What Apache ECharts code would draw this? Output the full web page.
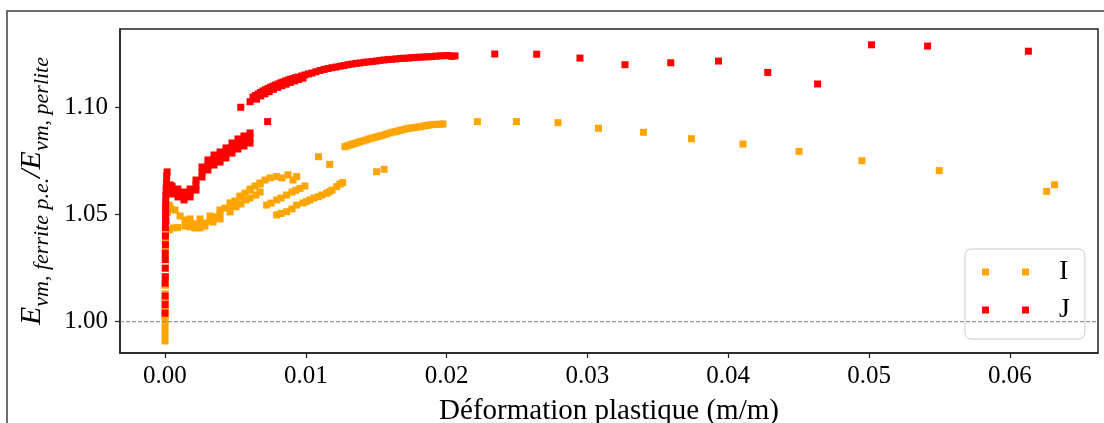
<!DOCTYPE html>
<html>
<head>
<meta charset="utf-8">
<script src="https://cdn.jsdelivr.net/npm/echarts@6/dist/echarts.min.js"></script>
<style>
  html, body { margin: 0; padding: 0; background: #ffffff; }
  #chart { width: 1104px; height: 423px; }
</style>
</head>
<body>
<div id="chart"></div>
<script>
// ---- data ----
var xTicks = [0.00, 0.01, 0.02, 0.03, 0.04, 0.05, 0.06];
var yTicks = [1.00, 1.05, 1.10];
var seriesNames = ['I', 'J'];

var seriesI = [
  [0.00000,0.991],[0.00000,0.994],[0.00000,0.997],[0.00001,1.000],[0.00001,1.003],[0.00001,1.006],
  [0.00001,1.010],[0.00001,1.013],[0.00002,1.017],[0.00002,1.021],[0.00002,1.025],[0.00002,1.029],
  [0.00003,1.033],[0.00003,1.037],[0.00004,1.040],[0.00005,1.043],
  [0.00010,1.047],[0.00018,1.051],[0.00030,1.0545],[0.00040,1.053],
  [0.00030,1.0429],[0.00060,1.0438],[0.00090,1.0440],
  [0.00071,1.0522],[0.00107,1.0494],[0.00142,1.0475],[0.00178,1.0461],[0.00213,1.0457],[0.00249,1.0457],
  [0.00284,1.0461],[0.00320,1.0471],[0.00355,1.0490],[0.00391,1.0508],[0.00426,1.0531],[0.00462,1.0540],
  [0.00497,1.0564],[0.00533,1.0583],[0.00568,1.0601],[0.00604,1.0620],[0.00639,1.0634],[0.00675,1.0648],
  [0.00710,1.0662],[0.00746,1.0672],
  [0.00178,1.0480],[0.00249,1.0480],[0.00320,1.0494],[0.00391,1.0522],[0.00462,1.0555],[0.00533,1.0587],
  [0.00604,1.0615],[0.00675,1.0643],
  [0.00142,1.0447],[0.00178,1.0443],[0.00213,1.0438],[0.00249,1.0438],[0.00284,1.0447],[0.00341,1.0466],
  [0.00391,1.0480],[0.00462,1.0513],[0.00504,1.0537],[0.00540,1.0550],[0.00575,1.0569],[0.00604,1.0578],
  [0.00646,1.0592],[0.00675,1.0606],
  [0.00793,1.0678],[0.00830,1.0672],[0.00874,1.0686],[0.00909,1.0662],[0.00935,1.0678],
  [0.00722,1.0545],[0.00753,1.0554],[0.00793,1.0569],[0.00824,1.0578],[0.00864,1.0592],[0.00902,1.0606],
  [0.00930,1.0614],[0.00959,1.0623],[0.00994,1.0634],
  [0.00793,1.0499],[0.00824,1.0506],[0.00864,1.0514],[0.00902,1.0527],[0.00935,1.0545],[0.00980,1.0555],
  [0.01005,1.0562],[0.01030,1.0569],[0.01058,1.0578],[0.01089,1.0584],[0.01115,1.0592],[0.01148,1.0600],
  [0.01166,1.0607],[0.01186,1.0615],[0.01219,1.0631],[0.01243,1.0643],[0.01262,1.0650],
  [0.01090,1.0771],[0.01170,1.0735],[0.01503,1.0701],[0.01556,1.0712],
  [0.01278,1.0818],[0.01296,1.0822],[0.01314,1.0826],[0.01332,1.0830],[0.01349,1.0833],[0.01367,1.0837],
  [0.01385,1.0841],[0.01406,1.0845],[0.01428,1.0849],[0.01449,1.0854],[0.01470,1.0858],[0.01492,1.0862],
  [0.01513,1.0865],[0.01532,1.0869],[0.01550,1.0872],[0.01574,1.0877],[0.01598,1.0882],[0.01620,1.0886],
  [0.01641,1.0889],[0.01662,1.0893],[0.01683,1.0896],[0.01705,1.0900],[0.01726,1.0903],[0.01747,1.0905],
  [0.01768,1.0907],[0.01790,1.0909],[0.01811,1.0911],[0.01833,1.0914],[0.01854,1.0917],[0.01875,1.0919],
  [0.01896,1.0921],[0.01918,1.0922],[0.01939,1.0922],[0.01957,1.0923],[0.01974,1.0924],
  [0.02219,1.0935],[0.02496,1.0935],[0.02791,1.0930],[0.03079,1.0904],[0.03398,1.0885],[0.03739,1.0855],
  [0.04105,1.0830],[0.04503,1.0796],[0.04950,1.0752],[0.05499,1.0706],[0.06262,1.0609],[0.06318,1.0640]
];

var seriesJ = [
  [0.00000,1.004],[0.00001,1.008],[0.00001,1.012],[0.00001,1.018],[0.00002,1.021],[0.00002,1.025],
  [0.00002,1.029],[0.00002,1.032],[0.00003,1.036],[0.00003,1.040],[0.00003,1.044],[0.00004,1.047],
  [0.00004,1.050],[0.00004,1.053],[0.00005,1.056],[0.00006,1.059],[0.00008,1.062],[0.00010,1.065],
  [0.00012,1.068],[0.00015,1.070],
  [0.00036,1.0639],[0.00050,1.0615],[0.00050,1.0634],[0.00050,1.0597],
  [0.00092,1.0601],[0.00092,1.0620],[0.00092,1.0583],
  [0.00135,1.0587],[0.00135,1.0606],[0.00135,1.0569],
  [0.00178,1.0601],[0.00178,1.0620],[0.00178,1.0583],
  [0.00220,1.0639],[0.00220,1.0662],[0.00220,1.0615],
  [0.00263,1.0700],[0.00263,1.0723],[0.00263,1.0676],
  [0.00305,1.0732],[0.00305,1.0756],[0.00305,1.0709],
  [0.00348,1.0756],[0.00348,1.0779],[0.00348,1.0732],
  [0.00391,1.0770],[0.00391,1.0793],[0.00391,1.0746],
  [0.00433,1.0788],[0.00433,1.0812],[0.00433,1.0765],
  [0.00476,1.0812],[0.00476,1.0835],[0.00476,1.0788],
  [0.00518,1.0830],[0.00518,1.0854],[0.00518,1.0807],
  [0.00561,1.0844],[0.00561,1.0868],[0.00561,1.0821],
  [0.00604,1.0858],[0.00604,1.0882],[0.00604,1.0835],
  [0.00538,1.1002],[0.00604,1.1028],[0.00729,1.0935],
  [0.00625,1.1050],[0.00643,1.1057],[0.00661,1.1064],[0.00679,1.1071],[0.00696,1.1078],[0.00714,1.1084],
  [0.00732,1.1090],[0.00750,1.1096],[0.00767,1.1101],[0.00785,1.1106],[0.00803,1.1111],[0.00821,1.1116],
  [0.00838,1.1120],[0.00856,1.1125],[0.00874,1.1129],[0.00892,1.1133],[0.00909,1.1136],[0.00927,1.1140],
  [0.00945,1.1143],[0.00970,1.1148],[0.00994,1.1153],[0.01019,1.1158],[0.01044,1.1162],[0.01072,1.1168],
  [0.01101,1.1174],[0.01130,1.1179],[0.01158,1.1183],[0.01186,1.1187],[0.01214,1.1190],[0.01243,1.1194],
  [0.01271,1.1197],[0.01300,1.1201],[0.01328,1.1204],[0.01357,1.1207],[0.01385,1.1209],[0.01414,1.1212],
  [0.01442,1.1214],[0.01471,1.1216],[0.01499,1.1218],[0.01527,1.1221],[0.01555,1.1223],[0.01584,1.1225],
  [0.01612,1.1226],[0.01641,1.1228],[0.01669,1.1230],[0.01698,1.1231],[0.01726,1.1232],[0.01755,1.1234],
  [0.01783,1.1235],[0.01811,1.1236],[0.01839,1.1237],[0.01868,1.1238],[0.01896,1.1239],[0.01925,1.1241],
  [0.01953,1.1242],[0.01982,1.1243],[0.02010,1.1244],[0.02035,1.1240],[0.02060,1.1242],
  [0.00650,1.1040],[0.00680,1.1055],[0.00710,1.1065],[0.00740,1.1075],[0.00770,1.1086],[0.00800,1.1095],
  [0.00830,1.1103],[0.00860,1.1110],[0.00890,1.1118],[0.00920,1.1125],[0.00950,1.1132],[0.00980,1.1138],
  [0.02342,1.1251],[0.02640,1.1250],[0.02947,1.1232],[0.03267,1.1201],[0.03592,1.1210],[0.03931,1.1218],
  [0.04281,1.1165],[0.04635,1.1111],[0.05018,1.1294],[0.05416,1.1288],[0.06132,1.1264]
];

var refLineY = 1.0;
var xRange = [-0.003196, 0.066264];
var yRange = [0.98537, 1.13678];

// ---- chart ----
var serif = 'Liberation Serif';
var chart = echarts.init(document.getElementById('chart'), null, { renderer: 'canvas' });
var legendIcon = 'path://M0,0h7v7h-7z M40,0h7v7h-7z';

var option = {
  backgroundColor: '#ffffff',
  animation: false,
  graphic: [{
    type: 'rect', z: -10, silent: true,
    shape: { x: 7, y: 11, width: 1200, height: 600 },
    style: { fill: 'none', stroke: '#6e6e6e', lineWidth: 2 }
  }],
  grid: {
    left: 120, right: 6, top: 29, bottom: 70,
    outerBoundsMode: 'none', containLabel: false,
    show: true, borderColor: '#222', borderWidth: 1.5, backgroundColor: 'transparent'
  },
  legend: {
    orient: 'vertical',
    left: 965, top: 249,
    padding: [9, 15, 15, 17],
    itemWidth: 47, itemHeight: 7,
    itemGap: 10,
    backgroundColor: 'rgba(255,255,255,0.8)',
    borderColor: '#cccccc', borderWidth: 1, borderRadius: 6,
    data: [{ name: seriesNames[0], icon: legendIcon }, { name: seriesNames[1], icon: legendIcon }],
    formatter: function (n) { return '{g|}{t|' + n + '}'; },
    textStyle: {
      rich: {
        g: { width: 25 },
        t: { fontFamily: serif, fontSize: 28, lineHeight: 30, color: '#000' }
      }
    }
  },
  xAxis: {
    type: 'value', min: xRange[0], max: xRange[1],
    name: 'Déformation plastique (m/m)',
    nameLocation: 'middle', nameGap: 44,
    nameTextStyle: { fontFamily: serif, fontSize: 29, color: '#000' },
    axisLine: { show: true, onZero: false, lineStyle: { color: '#222', width: 1.5 } },
    axisTick: { show: true, inside: false, length: 5, customValues: xTicks, lineStyle: { color: '#222', width: 1.2 } },
    axisLabel: {
      customValues: xTicks, margin: 11,
      fontFamily: serif, fontSize: 25, color: '#000',
      formatter: function (v) { return v.toFixed(2); }
    },
    splitLine: { show: false }
  },
  yAxis: {
    type: 'value', min: yRange[0], max: yRange[1],
    name: '{E|E}{s|vm, ferrite p.e.}{E|/E}{s|vm, perlite}',
    nameLocation: 'middle', nameGap: 60, nameRotate: 90,
    nameTextStyle: {
      color: '#000',
      rich: {
        E: { fontFamily: serif, fontStyle: 'italic', fontSize: 30, lineHeight: 36, verticalAlign: 'top', color: '#000' },
        s: { fontFamily: serif, fontStyle: 'italic', fontSize: 22, lineHeight: 24, verticalAlign: 'bottom', color: '#000' }
      }
    },
    axisLine: { show: true, onZero: false, lineStyle: { color: '#222', width: 1.5 } },
    axisTick: { show: true, inside: false, length: 5, customValues: yTicks, lineStyle: { color: '#222', width: 1.2 } },
    axisLabel: {
      customValues: yTicks, margin: 12,
      fontFamily: serif, fontSize: 25, color: '#000',
      formatter: function (v) { return v.toFixed(2); }
    },
    splitLine: { show: false }
  },
  series: [
    {
      name: seriesNames[0], type: 'scatter', symbol: 'rect', symbolSize: 7,
      itemStyle: { color: '#FFA500', opacity: 1 },
      data: seriesI, z: 2
    },
    {
      name: seriesNames[1], type: 'scatter', symbol: 'rect', symbolSize: 7,
      itemStyle: { color: '#FF0000', opacity: 1 },
      data: seriesJ, z: 3
    },
    {
      name: 'ref', type: 'line', z: 4, silent: true, symbol: 'none',
      lineStyle: { color: '#808080', width: 1, type: [4, 2] },
      data: [[xRange[0], refLineY], [xRange[1], refLineY]]
    }
  ]
};
chart.setOption(option);
</script>
</body>
</html>
